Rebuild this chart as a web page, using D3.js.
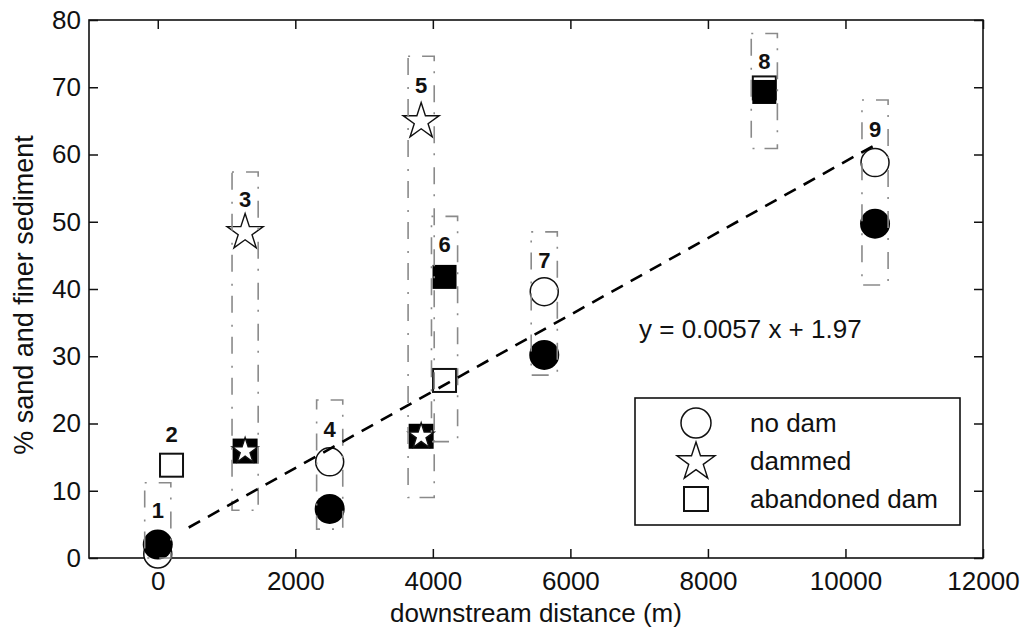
<!DOCTYPE html>
<html><head><meta charset="utf-8">
<script src="https://cdn.jsdelivr.net/npm/d3@7"></script>
<style>body{margin:0;background:#fff} svg{display:block} text{font-family:"Liberation Sans",Arial,sans-serif;fill:#111}</style>
</head><body><svg id="c" width="1024" height="630"></svg>
<script>
// ---- data ----
const xTicks = [0, 2000, 4000, 6000, 8000, 10000, 12000];
const yTicks = [0, 10, 20, 30, 40, 50, 60, 70, 80];
const sites = ["1", "2", "3", "4", "5", "6", "7", "8", "9"];
const siteX = [0, 200, 1270, 2500, 3830, 4170, 5620, 8820, 10430];
const labelY = [5.95, 17.3, 52.2, 18.0, 69.1, 45.5, 43.1, 72.7, 62.6];
const boxLow = [0, null, 7.1, 4.3, 9.0, 17.3, 27.2, 60.9, 40.6];
const boxHigh = [11.2, null, 57.4, 23.5, 74.6, 50.8, 48.5, 78.0, 68.1];

const noDamX = [0, 2500, 5620, 10430];
const noDamOpen = [0.6, 14.3, 39.6, 58.8];
const noDamFilled = [2.0, 7.3, 30.2, 49.7];
const dammedX = [1270, 3830];
const dammedOpen = [48.4, 64.9];
const dammedFilled = [15.9, 18.1];
const abandonedX = [200, 4170, 8820];
const abandonedOpen = [13.8, 26.4, 69.9];
const abandonedFilled = [null, 41.8, 69.3];

const trendSlope = 0.0057, trendIntercept = 1.97;
const trendX = [450, 10400];
const equationText = "y = 0.0057 x + 1.97";
const legendLabels = ["no dam", "dammed", "abandoned dam"];
const xLabel = "downstream distance (m)";
const yLabel = "% sand and finer sediment";

// ---- layout ----
const svg = d3.select("#c");
const L = 89, R = 983, T = 20, B = 558;
const x = d3.scaleLinear().domain([-1000, 12000]).range([L, R]);
const y = d3.scaleLinear().domain([0, 80]).range([B, T]);
const starSize = r => r * r / 0.8908130915292852;
const FS = 26;

// axes
const gx = svg.append("g").attr("transform", `translate(0,${B})`)
  .call(d3.axisBottom(x).tickValues(xTicks).tickFormat(d3.format("d")).tickSizeInner(-9).tickSizeOuter(0).tickPadding(14));
const gt = svg.append("g").attr("transform", `translate(0,${T})`)
  .call(d3.axisTop(x).tickValues(xTicks).tickSizeInner(-9).tickSizeOuter(0).tickFormat(""));
const gy = svg.append("g").attr("transform", `translate(${L},0)`)
  .call(d3.axisLeft(y).tickValues(yTicks).tickFormat(d3.format("d")).tickSizeInner(-9).tickSizeOuter(0).tickPadding(8));
const gr = svg.append("g").attr("transform", `translate(${R},0)`)
  .call(d3.axisRight(y).tickValues(yTicks).tickSizeInner(-9).tickSizeOuter(0).tickFormat(""));
[gx, gt, gy, gr].forEach(g => {
  g.select(".domain").remove();
  g.selectAll(".tick line").attr("stroke", "#111").attr("stroke-width", 1.5);
  g.selectAll(".tick text").attr("font-size", FS).attr("font-family", '"Liberation Sans",Arial,sans-serif').attr("fill", "#111");
});
svg.append("rect").attr("x", L).attr("y", T).attr("width", R - L).attr("height", B - T)
  .attr("fill", "none").attr("stroke", "#111").attr("stroke-width", 1.6);

// axis labels
svg.append("text").attr("x", (L + R) / 2).attr("y", 622).attr("text-anchor", "middle")
  .attr("font-size", FS).text(xLabel);
svg.append("text").attr("transform", `translate(33,295) rotate(-90)`)
  .attr("text-anchor", "middle").attr("font-size", 27).text(yLabel);

// markers
const gm = svg.append("g");
function openCircle(cx, cy, r) {
  gm.append("circle").attr("cx", cx).attr("cy", cy).attr("r", r)
    .attr("fill", "#fff").attr("stroke", "#111").attr("stroke-width", 1.5);
}
function filledCircle(cx, cy, r) {
  gm.append("circle").attr("cx", cx).attr("cy", cy).attr("r", r).attr("fill", "#000");
}
function openSquare(cx, cy, s) {
  gm.append("rect").attr("x", cx - s / 2).attr("y", cy - s / 2).attr("width", s).attr("height", s)
    .attr("fill", "#fff").attr("stroke", "#111").attr("stroke-width", 2);
}
function filledSquare(cx, cy, s) {
  gm.append("rect").attr("x", cx - s / 2).attr("y", cy - s / 2).attr("width", s).attr("height", s)
    .attr("fill", "#000");
}
function openStar(cx, cy, r) {
  gm.append("path").attr("transform", `translate(${cx},${cy})`)
    .attr("d", d3.symbol(d3.symbolStar, starSize(r))())
    .attr("fill", "#fff").attr("stroke", "#111").attr("stroke-width", 1.4).attr("stroke-linejoin", "miter");
}

noDamX.forEach((v, i) => { openCircle(x(v), y(noDamOpen[i]), 14); });
noDamX.forEach((v, i) => { filledCircle(x(v), y(noDamFilled[i]), 15); });
dammedX.forEach((v, i) => { openStar(x(v), y(dammedOpen[i]), 19); });
dammedX.forEach((v, i) => {
  filledSquare(x(v), y(dammedFilled[i]), 25);
  openStar(x(v), y(dammedFilled[i]), 13.5);
});
abandonedX.forEach((v, i) => { openSquare(x(v), y(abandonedOpen[i]), 23); });
abandonedX.forEach((v, i) => { if (abandonedFilled[i] != null) filledSquare(x(v), y(abandonedFilled[i]), 24); });

// range boxes (dash-dot)
const halfW = 190;
siteX.forEach((v, i) => {
  if (boxLow[i] == null) return;
  const x0 = x(v - halfW), x1 = x(v + halfW), y0 = y(boxHigh[i]), y1 = y(boxLow[i]);
  svg.append("path")
    .attr("d", `M${x0},${y0}H${x1}V${y1}H${x0}Z`)
    .attr("fill", "none").attr("stroke", "#8a8a8a").attr("stroke-width", 1.6)
    .attr("stroke-dasharray", "2,12,17,10");
});

// site labels
siteX.forEach((v, i) => {
  svg.append("text").attr("x", x(v)).attr("y", y(labelY[i])).attr("text-anchor", "middle")
    .attr("font-size", 22).attr("font-weight", "bold").text(sites[i]);
});

// trend line
svg.append("line")
  .attr("x1", x(trendX[0])).attr("y1", y(trendSlope * trendX[0] + trendIntercept))
  .attr("x2", x(trendX[1])).attr("y2", y(trendSlope * trendX[1] + trendIntercept))
  .attr("stroke", "#000").attr("stroke-width", 2.6).attr("stroke-dasharray", "13,9");

svg.append("text").attr("x", 639).attr("y", 338).attr("font-size", FS).text(equationText);

// legend
const lg = svg.append("g");
lg.append("rect").attr("x", 635).attr("y", 398).attr("width", 325).attr("height", 127)
  .attr("fill", "#fff").attr("stroke", "#111").attr("stroke-width", 1.6);
const legY = [423, 462, 499];
const legBase = [432, 470, 508];
lg.append("circle").attr("cx", 696).attr("cy", legY[0]).attr("r", 15)
  .attr("fill", "none").attr("stroke", "#111").attr("stroke-width", 1.5);
lg.append("path").attr("transform", `translate(696,${legY[1]})`)
  .attr("d", d3.symbol(d3.symbolStar, starSize(20))())
  .attr("fill", "none").attr("stroke", "#111").attr("stroke-width", 1.4);
lg.append("rect").attr("x", 696 - 12).attr("y", legY[2] - 12).attr("width", 24).attr("height", 24)
  .attr("fill", "none").attr("stroke", "#111").attr("stroke-width", 2);
legendLabels.forEach((t, i) => {
  lg.append("text").attr("x", 750).attr("y", legBase[i]).attr("font-size", FS).text(t);
});
</script></body></html>
